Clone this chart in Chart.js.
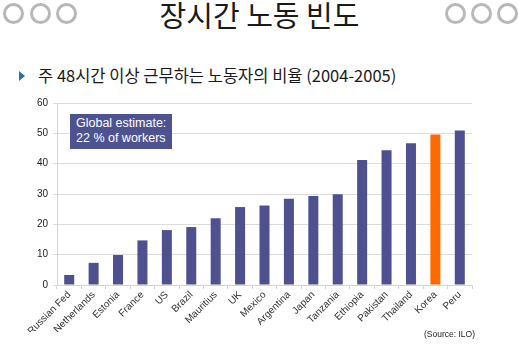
<!DOCTYPE html>
<html>
<head>
<meta charset="utf-8">
<script src="https://cdn.jsdelivr.net/npm/chart.js@4"></script>
<style>
body{margin:0;width:519px;height:346px;background:#fff;overflow:hidden;position:relative;font-family:"Noto Sans CJK KR","Noto Sans",sans-serif;}
.dot{position:absolute;top:3px;width:15px;height:15px;border:3px solid #b8b8b8;border-radius:50%;}
#title{position:absolute;left:0;width:519px;top:-7px;text-align:center;font-size:29px;color:#1a1a1a;}
#sub{position:absolute;left:38px;top:63px;font-size:16.5px;color:#1a1a1a;white-space:nowrap;}
#bullet{position:absolute;left:19px;top:71px;width:0;height:0;border-top:5px solid transparent;border-bottom:5px solid transparent;border-left:6px solid #2a6fa8;}
#note{position:absolute;left:70px;top:114px;width:102px;height:35px;background:#4e5291;color:#fff;font-family:Arial,"Liberation Sans",sans-serif;font-size:12.5px;line-height:15px;padding:2px 0 0 6px;box-sizing:border-box;}
#src{position:absolute;left:424px;top:329px;font-size:8.5px;color:#222;font-family:Arial,"Liberation Sans",sans-serif;}
#wrap{position:absolute;left:0;top:92px;width:519px;height:240px;}
</style>
</head>
<body>
<div class="dot" style="left:3px"></div>
<div class="dot" style="left:30px"></div>
<div class="dot" style="left:56px"></div>
<div class="dot" style="left:445px"></div>
<div class="dot" style="left:471px"></div>
<div class="dot" style="left:497px"></div>
<div id="title">장시간 노동 빈도</div>
<div id="bullet"></div>
<div id="sub">주 48시간 이상 근무하는 노동자의 비율 (2004-2005)</div>
<div id="wrap"><canvas id="c"></canvas></div>
<div id="note">Global estimate:<br>22 % of workers</div>
<div id="src">(Source: ILO)</div>
<script>
var countries = ["Russian Fed","Netherlands","Estonia","France","US","Brazil","Mauritius","UK","Mexico","Argentina","Japan","Tanzania","Ethiopia","Pakistan","Thailand","Korea","Peru"];
var shares = [3.3,7.3,9.9,14.7,18.1,19.1,22.0,25.7,26.2,28.4,29.3,29.9,41.2,44.4,46.7,49.6,50.9];
var yTicks = [0,10,20,30,40,50,60];

var colors = [];
for (var i = 0; i < countries.length; i++) {
  colors[i] = countries[i] == "Korea" ? "#ff6a00" : "#4e5090";
}

new Chart(document.getElementById("c"), {
  type: "bar",
  data: {
    labels: countries,
    datasets: [{ data: shares, backgroundColor: colors, barPercentage: 0.41, categoryPercentage: 1 }]
  },
  options: {
    responsive: true,
    maintainAspectRatio: false,
    animation: false,
    layout: { padding: { top: 11, right: 47, left: 0, bottom: 0 } },
    plugins: { legend: { display: false }, tooltip: { enabled: false } },
    scales: {
      x: {
        grid: { display: true, drawOnChartArea: false, offset: true, tickLength: 4, color: "#d4d4d4" },
        border: { color: "#d4d4d4" },
        ticks: { color: "#333", font: { family: "Arial, 'Liberation Sans'", size: 10 }, maxRotation: 45, minRotation: 45, padding: 0 },
        afterFit: function(s){ s.height = 47; }
      },
      y: {
        min: 0, max: 60,
        afterBuildTicks: function(s){ s.ticks = yTicks.map(function(v){ return { value: v }; }); },
        grid: { color: "#dcdcdc", tickLength: 4 },
        border: { color: "#d4d4d4" },
        ticks: { color: "#222", font: { family: "Arial, 'Liberation Sans'", size: 10 }, padding: 5 },
        afterFit: function(s){ s.width = 57; }
      }
    }
  }
});
</script>
</body>
</html>
